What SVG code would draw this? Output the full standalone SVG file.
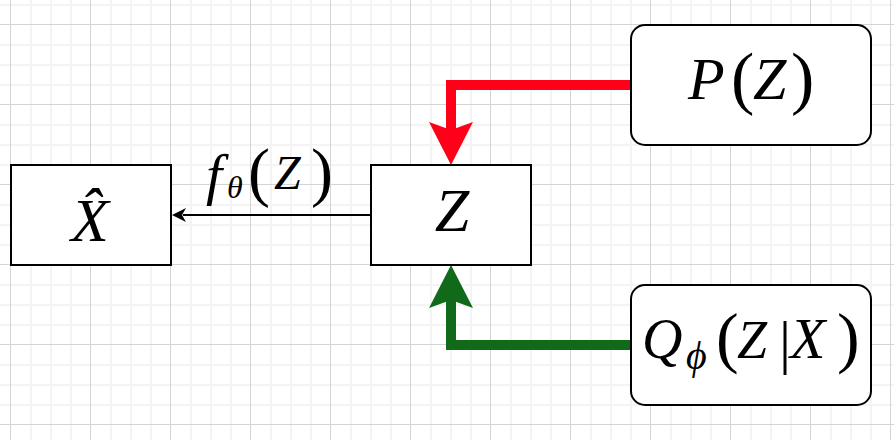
<svg xmlns="http://www.w3.org/2000/svg" width="894" height="440" viewBox="0 0 894 440">
<defs>
<pattern id="grid" x="10" y="24" width="80" height="80" patternUnits="userSpaceOnUse">
<rect width="80" height="80" fill="#ffffff"/>
<path d="M21 0V80M41 0V80M61 0V80M0 21H80M0 41H80M0 61H80" stroke="#f4f4f4" stroke-width="2" fill="none"/>
<path d="M0.5 0V80M0 0.5H80" stroke="#d4d4d4" stroke-width="1" fill="none"/>
</pattern>
<style>
.box{fill:#ffffff;stroke:#000000;stroke-width:2}
.t{font-family:'Times New Roman','Liberation Serif',Tinos,'DejaVu Serif',serif;fill:#000000}
.i{font-style:italic}
.red{fill:none;stroke:#ff0019;stroke-width:10;stroke-linejoin:miter}
.green{fill:none;stroke:#116a19;stroke-width:10;stroke-linejoin:miter}
</style>
</defs>
<rect width="894" height="440" fill="url(#grid)"/>

<g id="connectors">
<path class="red" d="M631 85H451V131"/>
<polygon points="429,122 451,130 473,122 451,165" fill="#ff0019"/>
<path class="green" d="M631 345H451V299"/>
<polygon points="429,308 451,300 473,308 451,265" fill="#116a19"/>
<path d="M371 215H183" stroke="#000000" stroke-width="2" fill="none"/>
<polygon points="172,215 186,208 182,215 186,222" fill="#000000"/>
<text class="t"><tspan class="i" x="206" y="194" font-size="58">f</tspan><tspan class="i" x="227" y="198" font-size="32">θ</tspan><tspan x="248" y="194" font-size="66">(</tspan><tspan class="i" x="274" y="189" font-size="48">Z</tspan><tspan x="311" y="194" font-size="66">)</tspan></text>
</g>

<g id="node-xhat">
<rect class="box" x="11" y="165" width="160" height="100"/>
<text class="t i" x="90" y="241" font-size="62" text-anchor="middle">X̂</text>
</g>

<g id="node-z">
<rect class="box" x="371" y="165" width="160" height="100"/>
<text class="t i" x="452" y="231" font-size="62" text-anchor="middle">Z</text>
</g>

<g id="node-pz">
<rect class="box" x="631" y="25" width="240" height="120" rx="14"/>
<text class="t"><tspan class="i" x="688" y="99" font-size="60">P</tspan><tspan x="731" y="101" font-size="70">(</tspan><tspan class="i" x="753" y="99" font-size="60">Z</tspan><tspan x="791" y="101" font-size="70">)</tspan></text>
</g>

<g id="node-qzx">
<rect class="box" x="631" y="285" width="240" height="120" rx="14"/>
<text class="t"><tspan class="i" x="642" y="358" font-size="56">Q</tspan><tspan class="i" x="686" y="369" font-size="40">ϕ</tspan><tspan x="716" y="360" font-size="68">(</tspan><tspan class="i" x="737" y="358" font-size="54">Z</tspan><tspan x="779" y="362" font-size="60">|</tspan><tspan class="i" x="790" y="358" font-size="58">X</tspan><tspan x="837" y="360" font-size="68">)</tspan></text>
</g>
</svg>
